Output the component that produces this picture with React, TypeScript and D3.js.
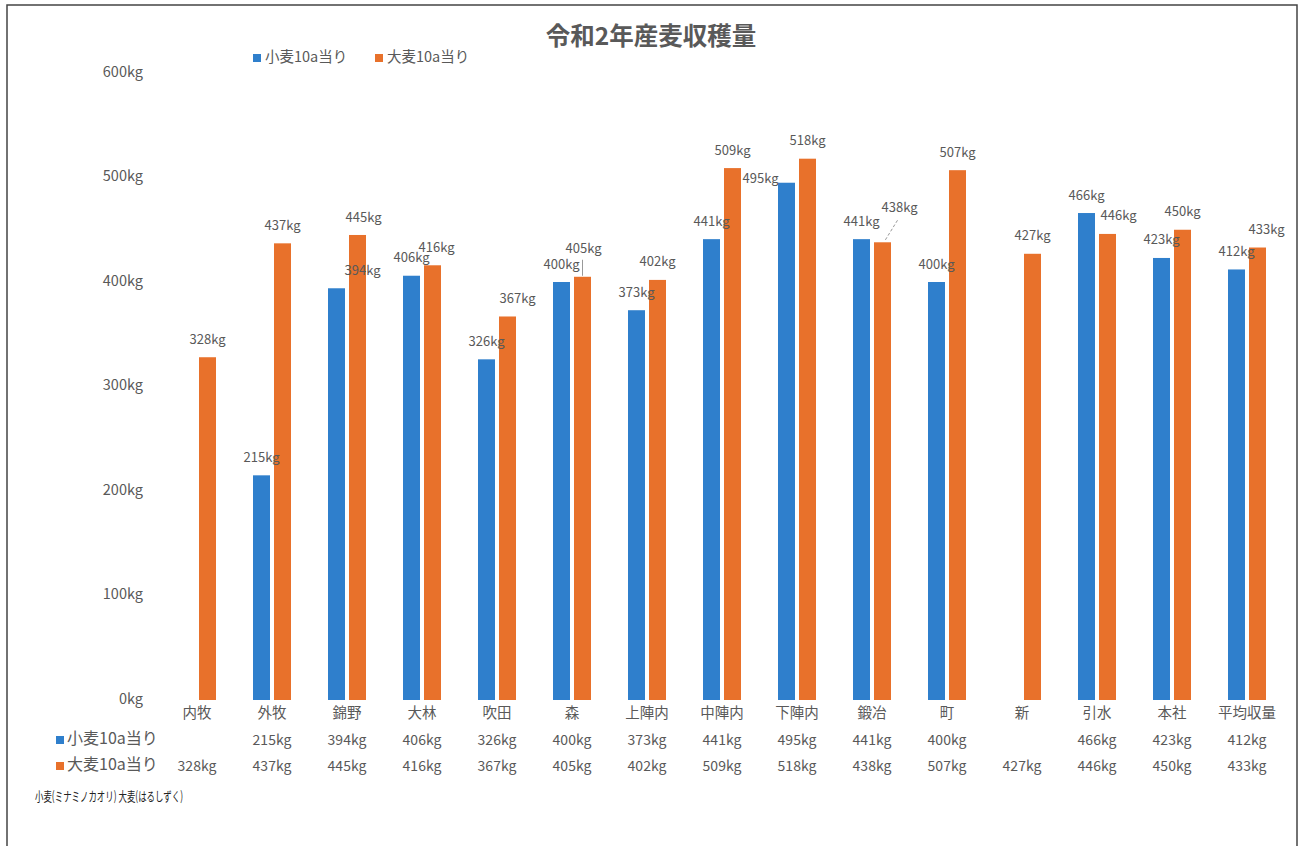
import React from "react";
import * as d3 from "d3";

const categories = ["内牧", "外牧", "錦野", "大林", "吹田", "森", "上陣内", "中陣内", "下陣内", "鍛冶", "町", "新", "引水", "本社", "平均収量"];
const wheat: (number | null)[] = [null, 215, 394, 406, 326, 400, 373, 441, 495, 441, 400, null, 466, 423, 412];
const barley: (number | null)[] = [328, 437, 445, 416, 367, 405, 402, 509, 518, 438, 507, 427, 446, 450, 433];
const yTicks = [0, 100, 200, 300, 400, 500, 600];
const seriesNames = ["小麦10a当り", "大麦10a当り"];
const title = "令和2年産麦収穫量";
const footnote = "小麦(ミナミノカオリ) 大麦(はるしずく)";

const BLUE = "#2F7FCC";
const ORANGE = "#E8712B";
const TEXT = "#595959";
const FONT = "'Noto Sans CJK JP', 'Noto Sans', sans-serif";

// label nudges (layout only): key = series index + ":" + category index
const nudges: Record<string, { dx: number; dy: number; leader?: "solid" | "dashed" }> = {
  "0:2": { dx: 26, dy: 0 },
  "1:2": { dx: 6, dy: 0 },
  "1:3": { dx: 4, dy: 0 },
  "1:4": { dx: 10, dy: 0 },
  "1:5": { dx: 1, dy: -10, leader: "solid" },
  "0:8": { dx: -26, dy: 14 },
  "1:9": { dx: 17, dy: -17, leader: "dashed" },
  "1:12": { dx: 11, dy: 0 },
  "1:14": { dx: 9, dy: 0 },
};

export default function App() {
  const W = 1301, H = 846;
  const x = d3.scaleBand<string>().domain(categories).range([159.5, 1284.5]);
  const y = d3.scaleLinear().domain([0, 600]).range([700, 73]);
  const barW = 17;
  const gap = 2;
  const series = [wheat, barley];
  const colors = [BLUE, ORANGE];

  return (
    <svg width={W} height={H} style={{ position: "absolute", left: 0, top: 0, background: "#fff" }} fontFamily={FONT}>
      <rect x={0} y={0} width={W} height={H} fill="#fff" />
      <path d={`M7,${H} V5 H1297 V${H}`} fill="none" stroke="#444" strokeWidth={1.5} />
      <text x={651} y={38} textAnchor="middle" dominantBaseline="middle" fontSize={24.5} fontWeight="bold" fill={TEXT}>{title}</text>
      {seriesNames.map((n, i) => (
        <g key={n} transform={`translate(${253 + i * 122},58)`}>
          <rect x={0} y={-4} width={8} height={8} fill={colors[i]} />
          <text x={12} y={0} dominantBaseline="middle" fontSize={14.5} fill={TEXT}>{n}</text>
        </g>
      ))}
      {yTicks.map((t) => (
        <text key={t} x={143} y={y(t)} textAnchor="end" dominantBaseline="middle" fontSize={14.5} fill={TEXT}>{t}kg</text>
      ))}
      {series.map((vals, si) =>
        vals.map((v, ci) => {
          if (v == null) return null;
          const c = x(categories[ci])! + x.bandwidth() / 2;
          const bx = si === 0 ? c - gap - barW : c + gap;
          return <rect key={`b${si}-${ci}`} x={bx} y={y(v)} width={barW} height={y(0) - y(v)} fill={colors[si]} />;
        })
      )}
      {series.map((vals, si) =>
        vals.map((v, ci) => {
          if (v == null) return null;
          const c = x(categories[ci])! + x.bandwidth() / 2;
          const bc = si === 0 ? c - gap - barW / 2 : c + gap + barW / 2;
          const n = nudges[`${si}:${ci}`] || { dx: 0, dy: 0 };
          const lx = bc + n.dx;
          const ly = y(v) - 17 + n.dy;
          return (
            <g key={`l${si}-${ci}`}>
              {n.leader === "solid" && (
                <line x1={bc} y1={ly + 10} x2={bc} y2={y(v) - 1} stroke="#999" strokeWidth={1} />
              )}
              {n.leader === "dashed" && (
                <line x1={lx - 2} y1={ly + 12} x2={bc + 2} y2={y(v) - 1} stroke="#999" strokeWidth={1} strokeDasharray="3,2" />
              )}
              <text x={lx} y={ly} textAnchor="middle" dominantBaseline="middle" fontSize={13} fill={TEXT}>{v}kg</text>
            </g>
          );
        })
      )}
      {categories.map((cat) => (
        <text key={cat} x={x(cat)! + x.bandwidth() / 2} y={714} textAnchor="middle" dominantBaseline="middle" fontSize={14.5} fill={TEXT}>{cat}</text>
      ))}
      {seriesNames.map((n, si) => (
        <g key={`t${n}`}>
          <rect x={56} y={740 + si * 26 - 4} width={8} height={8} fill={colors[si]} />
          <text x={67} y={740 + si * 26} dominantBaseline="middle" fontSize={16} fill={TEXT}>{n}</text>
          {series[si].map((v, ci) =>
            v == null ? null : (
              <text key={ci} x={x(categories[ci])! + x.bandwidth() / 2} y={741 + si * 26} textAnchor="middle" dominantBaseline="middle" fontSize={14} fill={TEXT}>{v}kg</text>
            )
          )}
        </g>
      ))}
      <text x={35} y={797} dominantBaseline="middle" fontSize={13} fill="#222" textLength={148} lengthAdjust="spacingAndGlyphs">{footnote}</text>
    </svg>
  );
}
